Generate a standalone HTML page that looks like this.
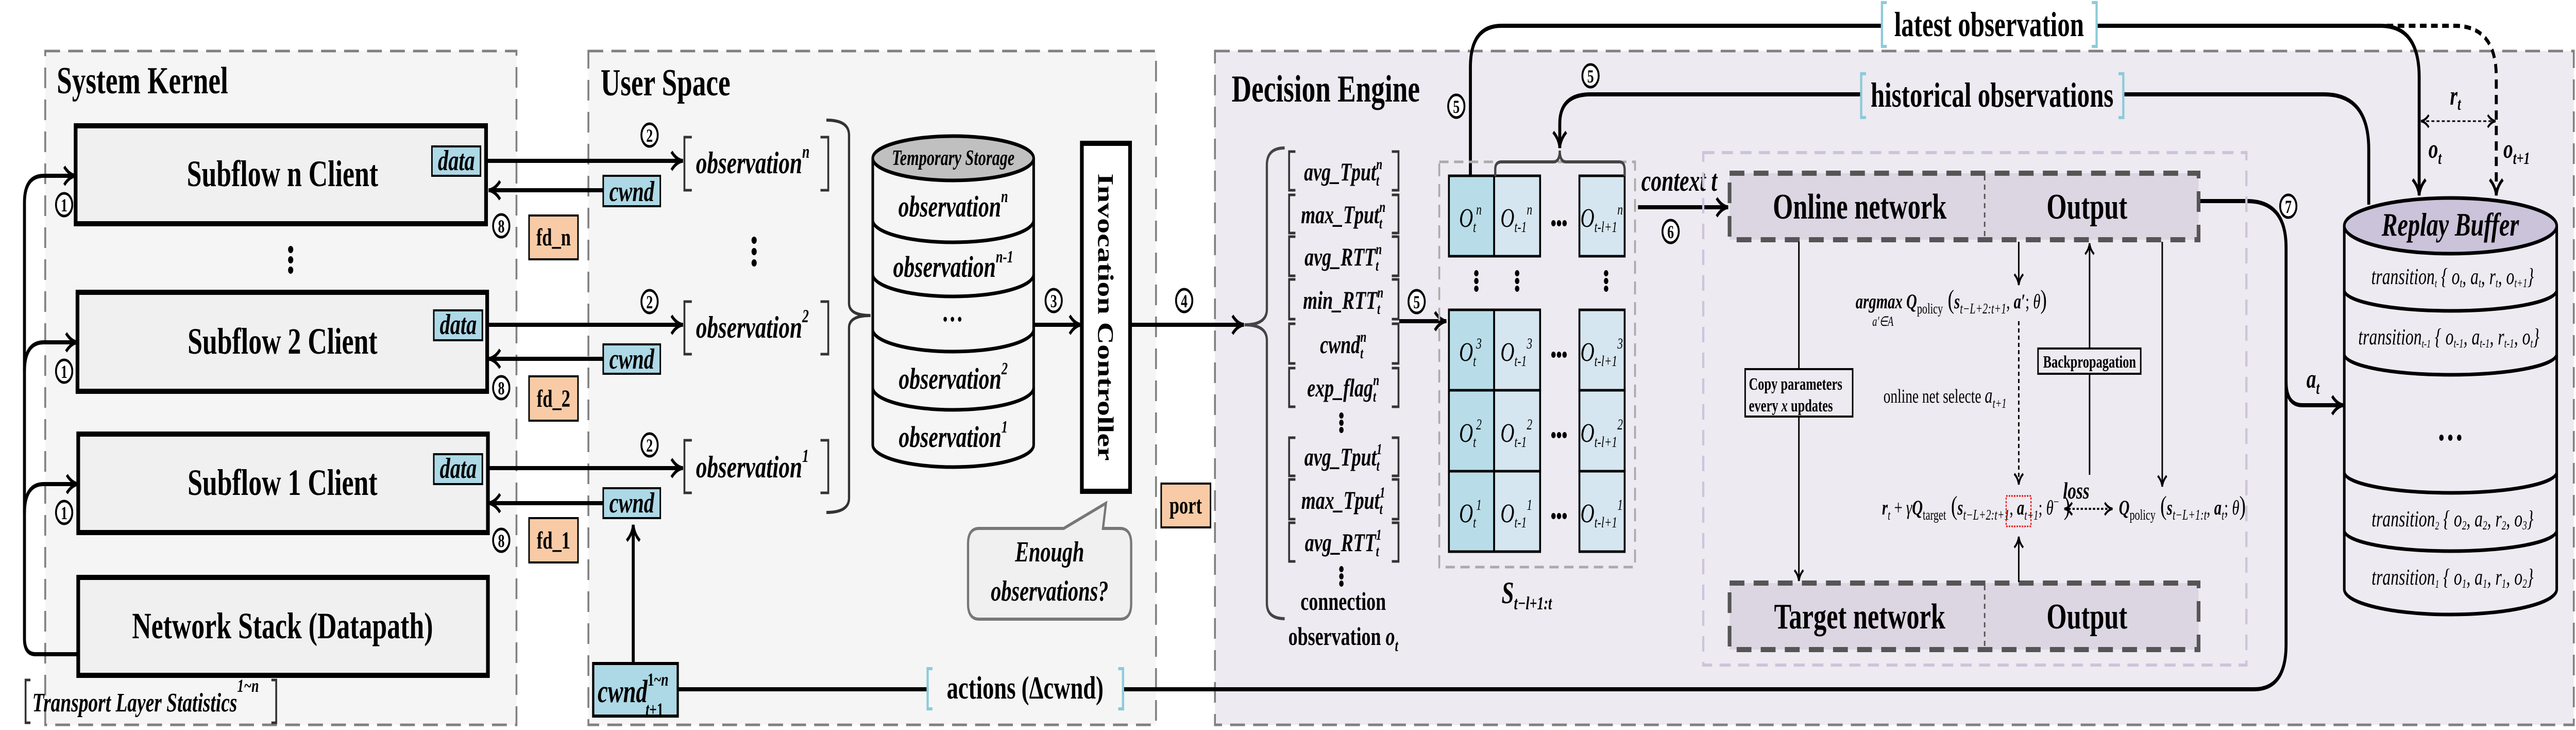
<!DOCTYPE html>
<html><head><meta charset="utf-8"><style>html,body{margin:0;padding:0;background:#fff;width:100%;height:100%;overflow:hidden}svg{display:block;width:100vw;height:100vh}</style></head>
<body>
<svg xmlns="http://www.w3.org/2000/svg" viewBox="0 0 6948 1416" preserveAspectRatio="none" font-family="Liberation Serif, serif">
<defs>
<marker id="a" viewBox="0 0 20 20" refX="17" refY="10" markerWidth="44" markerHeight="44" markerUnits="userSpaceOnUse" orient="auto-start-reverse"><path d="M3,2 Q9,9 17,10 Q9,11 3,18" fill="none" stroke="#000" stroke-width="3"/></marker>
<marker id="b" viewBox="0 0 20 20" refX="17" refY="10" markerWidth="30" markerHeight="30" markerUnits="userSpaceOnUse" orient="auto-start-reverse"><path d="M3,2 Q9,9 17,10 Q9,11 3,18" fill="none" stroke="#000" stroke-width="3"/></marker>
</defs>
<rect width="6948" height="1416" fill="#fff"/>
<rect x="122" y="99" width="1271" height="1307" fill="#f5f5f5" stroke="#808080" stroke-width="5" stroke-dasharray="40 22"/>
<rect x="1587" y="99" width="1531" height="1307" fill="#f5f5f5" stroke="#808080" stroke-width="5" stroke-dasharray="40 22"/>
<rect x="3277" y="99" width="3665" height="1307" fill="#edeaf1" stroke="#808080" stroke-width="5" stroke-dasharray="40 22"/>
<g font-weight="bold" font-size="74">
<text x="153" y="181">System Kernel</text>
<text x="1620" y="185">User Space</text>
<text x="3322" y="197">Decision Engine</text>
</g>
<g fill="#f0f0f0" stroke="#000" stroke-width="10">
<rect x="204" y="244" width="1107" height="190"/>
<rect x="209" y="567" width="1105" height="192"/>
<rect x="211" y="842" width="1105" height="191"/>
<rect x="211" y="1120" width="1105" height="190"/>
</g>
<g font-weight="bold" font-size="72" text-anchor="middle">
<text x="762" y="361">Subflow n Client</text>
<text x="762" y="686">Subflow 2 Client</text>
<text x="762" y="960">Subflow 1 Client</text>
<text x="762" y="1238">Network Stack (Datapath)</text>
</g>
<g fill="#add8e6" stroke="#000" stroke-width="4">
<rect x="1165" y="284" width="131" height="57"/>
<rect x="1170" y="602" width="131" height="58"/>
<rect x="1170" y="881" width="131" height="58"/>
<rect x="1627" y="341" width="154" height="59"/>
<rect x="1627" y="668" width="154" height="57"/>
<rect x="1627" y="947" width="154" height="58"/>
<rect x="1600" y="1287" width="228" height="102" stroke-width="6"/>
</g>
<g font-style="italic" font-weight="bold" font-size="56" text-anchor="middle">
<text x="1231" y="330">data</text><text x="1236" y="648">data</text><text x="1236" y="927">data</text>
<text x="1704" y="390">cwnd</text><text x="1704" y="715">cwnd</text><text x="1704" y="994">cwnd</text>
</g>
<text x="1612" y="1362" font-style="italic" font-weight="bold" font-size="62">cwnd<tspan font-size="36" font-style="normal" dy="-32">1~</tspan><tspan font-size="36">n</tspan><tspan font-size="36" dx="-62" dy="58">t</tspan><tspan font-size="36" font-style="normal">+1</tspan></text>
<g fill="#f8cba6" stroke="#000" stroke-width="4">
<rect x="1427" y="418" width="132" height="85"/><rect x="1427" y="730" width="132" height="86"/><rect x="1427" y="1005" width="132" height="86"/>
<rect x="3132" y="938" width="133" height="85"/>
</g>
<g font-weight="bold" font-size="48" text-anchor="middle">
<text x="1493" y="476">fd_n</text><text x="1493" y="789">fd_2</text><text x="1493" y="1064">fd_1</text><text x="3198" y="996">port</text>
</g>
<g fill="#000"><circle cx="784" cy="484" r="7"/><circle cx="784" cy="504" r="7"/><circle cx="784" cy="524" r="7"/>
<circle cx="2034" cy="466" r="7"/><circle cx="2034" cy="488" r="7"/><circle cx="2034" cy="510" r="7"/></g>
<g fill="none" stroke="#000" stroke-width="8">
<path d="M211,1269 H96 Q66,1269 66,1239 V393 Q66,341 118,341 H204" marker-end="url(#a)"/>
<path d="M66,720 Q66,664 118,664 H209" marker-end="url(#a)"/>
<path d="M66,995 Q66,939 118,939 H211" marker-end="url(#a)"/>
<path d="M1316,312 H1842" marker-end="url(#a)"/>
<path d="M1316,630 H1842" marker-end="url(#a)"/>
<path d="M1316,908 H1842" marker-end="url(#a)"/>
<path d="M1627,369 H1318" marker-end="url(#a)"/>
<path d="M1627,696 H1318" marker-end="url(#a)"/>
<path d="M1627,976 H1318" marker-end="url(#a)"/>
<path d="M1708,1287 V1018" marker-end="url(#a)"/>
<path d="M2788,630 H2916" marker-end="url(#a)"/>
<path d="M3048,630 H3355" marker-end="url(#a)"/>
<path d="M3774,623 H3901" marker-end="url(#a)"/>
<path d="M4418,402 H4661" marker-end="url(#a)"/>
<path d="M1828,1337 H2500"/>
<path d="M3029,1337 H6080 Q6166,1337 6166,1250 V480 Q6166,390 6060,390 H5930"/>
<path d="M6166,740 Q6166,786 6210,786 H6321" marker-end="url(#a)"/>
<path d="M3966,341 V130 Q3966,50 4050,50 H5074"/>
<path d="M5657,50 H6420 Q6525,50 6525,150 V379" marker-end="url(#a)"/>
<path d="M6437,50 H6620 Q6733,50 6733,150 V379" stroke-dasharray="18 12" marker-end="url(#a)"/>
<path d="M6389,397 V290 Q6389,183 6268,183 H5729"/>
<path d="M5018,183 H4290 Q4207,183 4207,240 V287" marker-end="url(#a)"/>
</g>
<g fill="none" stroke="#333" stroke-width="5">
<path d="M82,1319 H69 V1402 H82"/><path d="M732,1319 H745 V1402 H732"/>
</g>
<text x="87" y="1380" font-style="italic" font-weight="bold" font-size="52">Transport Layer Statistics<tspan font-size="36" dy="-38">1~n</tspan></text>
<g fill="none" stroke="#333" stroke-width="5">
<path d="M1866,266 H1846 V369 H1866"/><path d="M2213,266 H2234 V369 H2213"/>
<path d="M1866,585 H1846 V687 H1866"/><path d="M2213,585 H2234 V687 H2213"/>
<path d="M1866,854 H1846 V956 H1866"/><path d="M2213,854 H2234 V956 H2213"/>
<path d="M2229,233 Q2290,233 2290,262 V588 Q2290,612 2348,612 Q2290,612 2290,636 V966 Q2290,994 2229,994" stroke-width="6"/>
</g>
<g font-style="italic" font-weight="bold" font-size="60">
<text x="1877" y="336">observation<tspan font-size="36" dy="-30">n</tspan></text>
<text x="1877" y="655">observation<tspan font-size="36" dy="-30">2</tspan></text>
<text x="1877" y="926">observation<tspan font-size="36" dy="-30">1</tspan></text>
</g>
<path d="M2354,307 V863 A217,43 0 0 0 2788,863 V307" fill="#f5f5f5" stroke="#000" stroke-width="7"/>
<ellipse cx="2571" cy="307" rx="217" ry="43" fill="#c0c0c0" stroke="#000" stroke-width="7"/>
<g fill="none" stroke="#000" stroke-width="7">
<path d="M2354,427 A217,43 0 0 0 2788,427"/><path d="M2354,532 A217,43 0 0 0 2788,532"/>
<path d="M2354,639 A217,43 0 0 0 2788,639"/><path d="M2354,752 A217,43 0 0 0 2788,752"/>
</g>
<text x="2571" y="320" text-anchor="middle" font-style="italic" font-weight="bold" font-size="42">Temporary Storage</text>
<g font-style="italic" font-weight="bold" font-size="58" text-anchor="middle">
<text x="2571" y="420">observation<tspan font-size="34" dy="-28">n</tspan></text>
<text x="2571" y="537">observation<tspan font-size="34" dy="-28">n-1</tspan></text>
<text x="2571" y="623">…</text>
<text x="2571" y="754">observation<tspan font-size="34" dy="-28">2</tspan></text>
<text x="2571" y="867">observation<tspan font-size="34" dy="-28">1</tspan></text>
</g>
<rect x="2918" y="278" width="130" height="675" fill="#fff" stroke="#000" stroke-width="10"/>
<text transform="translate(2962,615) rotate(90)" text-anchor="middle" font-weight="bold" font-size="60">Invocation Controller</text>
<path d="M2641,1025 H2869 L2983,976 L2975,1025 H3021 Q3051,1025 3051,1055 V1171 Q3051,1201 3021,1201 H2641 Q2611,1201 2611,1171 V1055 Q2611,1025 2641,1025 Z" fill="#f0f0f0" stroke="#777" stroke-width="6"/>
<g font-style="italic" font-weight="bold" font-size="56" text-anchor="middle">
<text x="2831" y="1089">Enough</text><text x="2831" y="1165">observations?</text>
</g>
<g fill="none" stroke="#8ccbd9" stroke-width="6">
<path d="M2515,1297 H2502 V1375 H2515"/><path d="M3016,1297 H3029 V1375 H3016"/>
<path d="M5089,5 H5076 V90 H5089"/><path d="M5642,5 H5655 V90 H5642"/>
<path d="M5033,143 H5020 V228 H5033"/><path d="M5714,143 H5727 V228 H5714"/>
</g>
<g font-weight="bold" text-anchor="middle">
<text x="2765" y="1355" font-size="62">actions (Δcwnd)</text>
<text x="5365" y="70" font-size="68">latest observation</text>
<text x="5373" y="207" font-size="68">historical observations</text>
</g>
<g fill="none" stroke="#444" stroke-width="6">
<path d="M3465,287 Q3417,287 3417,320 V600 Q3417,630 3357,630 Q3417,630 3417,660 V1170 Q3417,1200 3465,1200"/>
</g>
<g fill="none" stroke="#333" stroke-width="5">
<path d="M3494,294 H3477 V369 H3494 M3754,294 H3772 V369 H3754"/>
<path d="M3494,378 H3477 V452 H3494 M3754,378 H3772 V452 H3754"/>
<path d="M3494,459 H3477 V535 H3494 M3754,459 H3772 V535 H3754"/>
<path d="M3494,542 H3477 V619 H3494 M3754,542 H3772 V619 H3754"/>
<path d="M3494,628 H3477 V705 H3494 M3754,628 H3772 V705 H3754"/>
<path d="M3494,714 H3477 V789 H3494 M3754,714 H3772 V789 H3754"/>
<path d="M3494,849 H3477 V923 H3494 M3754,849 H3772 V923 H3754"/>
<path d="M3494,930 H3477 V1007 H3494 M3754,930 H3772 V1007 H3754"/>
<path d="M3494,1014 H3477 V1089 H3494 M3754,1014 H3772 V1089 H3754"/>
</g>
<g font-style="italic" font-weight="bold" font-size="50" text-anchor="middle">
<text x="3623" y="350">avg_Tput<tspan font-size="30" dy="10">t</tspan><tspan font-size="30" dx="-8" dy="-32">n</tspan></text>
<text x="3623" y="433">max_Tput<tspan font-size="30" dy="10">t</tspan><tspan font-size="30" dx="-8" dy="-32">n</tspan></text>
<text x="3623" y="515">avg_RTT<tspan font-size="30" dy="10">t</tspan><tspan font-size="30" dx="-8" dy="-32">n</tspan></text>
<text x="3623" y="599">min_RTT<tspan font-size="30" dy="10">t</tspan><tspan font-size="30" dx="-8" dy="-32">n</tspan></text>
<text x="3623" y="685">cwnd<tspan font-size="30" dy="10">t</tspan><tspan font-size="30" dx="-8" dy="-32">n</tspan></text>
<text x="3623" y="769">exp_flag<tspan font-size="30" dy="10">t</tspan><tspan font-size="30" dx="-8" dy="-32">n</tspan></text>
<text x="3623" y="903">avg_Tput<tspan font-size="30" dy="10">t</tspan><tspan font-size="30" dx="-8" dy="-32">1</tspan></text>
<text x="3623" y="987">max_Tput<tspan font-size="30" dy="10">t</tspan><tspan font-size="30" dx="-8" dy="-32">1</tspan></text>
<text x="3623" y="1069">avg_RTT<tspan font-size="30" dy="10">t</tspan><tspan font-size="30" dx="-8" dy="-32">1</tspan></text>
</g>
<g fill="#000"><circle cx="3618" cy="806" r="6"/><circle cx="3618" cy="820" r="6"/><circle cx="3618" cy="834" r="6"/>
<circle cx="3618" cy="1104" r="6"/><circle cx="3618" cy="1118" r="6"/><circle cx="3618" cy="1132" r="6"/></g>
<g font-weight="bold" font-size="50" text-anchor="middle">
<text x="3623" y="1183">connection</text>
<text x="3623" y="1251">observation <tspan font-style="italic">o</tspan><tspan font-style="italic" font-size="32" dy="12">t</tspan></text>
</g>
<rect x="3882" y="314" width="528" height="786" fill="none" stroke="#aaa" stroke-width="5" stroke-dasharray="25 15"/>
<g stroke="#000" stroke-width="5">
<rect x="3908" y="341" width="122" height="156" fill="#b8dde8"/><rect x="4030" y="341" width="124" height="156" fill="#d6e6f0"/><rect x="4260" y="341" width="122" height="156" fill="#d6e6f0"/>
<rect x="3908" y="601" width="122" height="156" fill="#b8dde8"/><rect x="4030" y="601" width="124" height="156" fill="#d6e6f0"/><rect x="4260" y="601" width="122" height="156" fill="#d6e6f0"/>
<rect x="3908" y="757" width="122" height="157" fill="#b8dde8"/><rect x="4030" y="757" width="124" height="157" fill="#d6e6f0"/><rect x="4260" y="757" width="122" height="157" fill="#d6e6f0"/>
<rect x="3908" y="914" width="122" height="156" fill="#b8dde8"/><rect x="4030" y="914" width="124" height="156" fill="#d6e6f0"/><rect x="4260" y="914" width="122" height="156" fill="#d6e6f0"/>
</g>
<g font-style="italic" font-size="52" text-anchor="middle">
<text x="3966" y="440">O<tspan font-size="30" dy="10">t</tspan><tspan font-size="30" dy="-34">n</tspan></text>
<text x="4090" y="440">O<tspan font-size="30" dy="10">t-1</tspan><tspan font-size="30" dy="-34">n</tspan></text>
<text x="4320" y="440">O<tspan font-size="30" dy="10">t-l+1</tspan><tspan font-size="30" dy="-34">n</tspan></text>
<text x="3966" y="700">O<tspan font-size="30" dy="10">t</tspan><tspan font-size="30" dy="-34">3</tspan></text>
<text x="4090" y="700">O<tspan font-size="30" dy="10">t-1</tspan><tspan font-size="30" dy="-34">3</tspan></text>
<text x="4320" y="700">O<tspan font-size="30" dy="10">t-l+1</tspan><tspan font-size="30" dy="-34">3</tspan></text>
<text x="3966" y="857">O<tspan font-size="30" dy="10">t</tspan><tspan font-size="30" dy="-34">2</tspan></text>
<text x="4090" y="857">O<tspan font-size="30" dy="10">t-1</tspan><tspan font-size="30" dy="-34">2</tspan></text>
<text x="4320" y="857">O<tspan font-size="30" dy="10">t-l+1</tspan><tspan font-size="30" dy="-34">2</tspan></text>
<text x="3966" y="1013">O<tspan font-size="30" dy="10">t</tspan><tspan font-size="30" dy="-34">1</tspan></text>
<text x="4090" y="1013">O<tspan font-size="30" dy="10">t-1</tspan><tspan font-size="30" dy="-34">1</tspan></text>
<text x="4320" y="1013">O<tspan font-size="30" dy="10">t-l+1</tspan><tspan font-size="30" dy="-34">1</tspan></text>
</g>
<g fill="#000">
<circle cx="4190" cy="433" r="6"/><circle cx="4205" cy="433" r="6"/><circle cx="4220" cy="433" r="6"/>
<circle cx="4190" cy="688" r="6"/><circle cx="4205" cy="688" r="6"/><circle cx="4220" cy="688" r="6"/>
<circle cx="4190" cy="844" r="6"/><circle cx="4205" cy="844" r="6"/><circle cx="4220" cy="844" r="6"/>
<circle cx="4190" cy="1001" r="6"/><circle cx="4205" cy="1001" r="6"/><circle cx="4220" cy="1001" r="6"/>
<circle cx="3982" cy="530" r="6"/><circle cx="3982" cy="545" r="6"/><circle cx="3982" cy="560" r="6"/>
<circle cx="4092" cy="530" r="6"/><circle cx="4092" cy="545" r="6"/><circle cx="4092" cy="560" r="6"/>
<circle cx="4332" cy="530" r="6"/><circle cx="4332" cy="545" r="6"/><circle cx="4332" cy="560" r="6"/>
</g>
<path d="M4033,342 V328 Q4033,314 4050,314 H4190 Q4207,314 4207,292 Q4207,314 4224,314 H4368 Q4382,314 4382,330 V342" fill="none" stroke="#444" stroke-width="6"/>
<text x="4050" y="1170" font-style="italic" font-weight="bold" font-size="60">S<tspan font-size="36" dy="12">t−l+1:t</tspan></text>
<text x="4427" y="370" font-style="italic" font-weight="bold" font-size="58">context t</text>
<rect x="4594" y="296" width="1465" height="994" fill="none" stroke="#cdc4db" stroke-width="6" stroke-dasharray="30 20"/>
<g fill="#dcd6e3" stroke="#555" stroke-width="10" stroke-dasharray="40 25">
<rect x="4665" y="336" width="1265" height="129"/>
<rect x="4665" y="1131" width="1265" height="129"/>
</g>
<g stroke="#555" stroke-width="4" stroke-dasharray="10 8"><path d="M5353,340 V462 M5353,1135 V1257"/></g>
<g font-weight="bold" font-size="70" text-anchor="middle">
<text x="5016" y="424">Online network</text><text x="5629" y="424">Output</text>
<text x="5016" y="1219">Target network</text><text x="5629" y="1219">Output</text>
</g>
<g fill="none" stroke="#000" stroke-width="4">
<path d="M4852,469 V1127" marker-end="url(#b)"/>
<path d="M5445,469 V553" marker-end="url(#b)"/>
<path d="M5445,623 V940" stroke-dasharray="8 6" marker-end="url(#b)"/>
<path d="M5636,921 V472" marker-end="url(#b)"/>
<path d="M5832,469 V944" marker-end="url(#b)"/>
<path d="M5445,1129 V1041" marker-end="url(#b)"/>
<path d="M5568,987 H5698" stroke-dasharray="6 5" marker-start="url(#b)" marker-end="url(#b)"/>
<path d="M6530,235 H6731" stroke-width="3" stroke-dasharray="8 6" marker-start="url(#b)" marker-end="url(#b)"/>
</g>
<rect x="4707" y="716" width="290" height="92" fill="#edeaf1" stroke="#000" stroke-width="4"/>
<g font-weight="bold" font-size="34"><text x="4717" y="756">Copy parameters</text><text x="4717" y="798">every <tspan font-style="italic">x</tspan> updates</text></g>
<rect x="5497" y="676" width="277" height="49" fill="#edeaf1" stroke="#000" stroke-width="4"/>
<text x="5636" y="713" text-anchor="middle" font-weight="bold" font-size="34">Backpropagation</text>
<g font-size="40">
<text x="5005" y="598"><tspan font-style="italic" font-weight="bold">argmax Q</tspan><tspan font-size="28" dy="10">policy</tspan><tspan font-size="52" dy="-10"> (</tspan><tspan font-style="italic" font-weight="bold">s</tspan><tspan font-size="28" font-style="italic" dy="10">t−L+2:t+1</tspan><tspan dy="-10">, </tspan><tspan font-style="italic" font-weight="bold">a′</tspan>; <tspan font-style="italic">θ</tspan><tspan font-size="52">)</tspan></text>
<text x="5050" y="632" font-size="26" font-style="italic">a′∈A</text>
<text x="5080" y="781" font-size="38">online net selecte <tspan font-style="italic" font-size="42">a</tspan><tspan font-style="italic" font-size="26" dy="10">t+1</tspan></text>
<text x="5076" y="998"><tspan font-style="italic" font-weight="bold">r</tspan><tspan font-style="italic" font-size="26" dy="10">t</tspan><tspan dy="-10"> + </tspan><tspan font-style="italic">γ</tspan><tspan font-style="italic" font-weight="bold">Q</tspan><tspan font-size="28" dy="10">target</tspan><tspan font-size="52" dy="-10"> (</tspan><tspan font-style="italic" font-weight="bold">s</tspan><tspan font-size="28" font-style="italic" dy="10">t−L+2:t+1</tspan><tspan dy="-10">, </tspan><tspan font-style="italic" font-weight="bold">a</tspan><tspan font-size="26" font-style="italic" dy="10">t+1</tspan><tspan dy="-10">; </tspan><tspan font-style="italic">θ</tspan><tspan font-size="26" dy="-16">−</tspan><tspan font-size="52" dy="16"> )</tspan></text>
<text x="5715" y="998"><tspan font-style="italic" font-weight="bold">Q</tspan><tspan font-size="28" dy="10">policy</tspan><tspan font-size="52" dy="-10"> (</tspan><tspan font-style="italic" font-weight="bold">s</tspan><tspan font-size="28" font-style="italic" dy="10">t−L+1:t</tspan><tspan dy="-10">, </tspan><tspan font-style="italic" font-weight="bold">a</tspan><tspan font-size="26" font-style="italic" dy="10">t</tspan><tspan dy="-10">; </tspan><tspan font-style="italic">θ</tspan><tspan font-size="52">)</tspan></text>
</g>
<rect x="5411" y="962" width="67" height="59" fill="none" stroke="#e00" stroke-width="3" stroke-dasharray="4 3"/>
<text x="5600" y="967" text-anchor="middle" font-style="italic" font-weight="bold" font-size="46">loss</text>
<path d="M6323,438 V1143 A286.5,49 0 0 0 6896,1143 V438" fill="#edeaf1" stroke="#000" stroke-width="7"/>
<ellipse cx="6609.5" cy="438" rx="286.5" ry="54" fill="#cbc3da" stroke="#000" stroke-width="7"/>
<g fill="none" stroke="#000" stroke-width="7">
<path d="M6323,563 A286.5,40 0 0 0 6896,563"/><path d="M6323,687 A286.5,40 0 0 0 6896,687"/>
<path d="M6323,916 A286.5,40 0 0 0 6896,916"/><path d="M6323,1029 A286.5,40 0 0 0 6896,1029"/>
</g>
<text x="6609" y="457" text-anchor="middle" font-style="italic" font-weight="bold" font-size="64">Replay Buffer</text>
<g font-style="italic" font-size="44" text-anchor="middle">
<text x="6615" y="551">transition<tspan font-size="22" dy="6">t</tspan><tspan dy="-6"> { o</tspan><tspan font-size="24" dy="6">t</tspan><tspan dy="-6">, a</tspan><tspan font-size="24" dy="6">t</tspan><tspan dy="-6">, r</tspan><tspan font-size="24" dy="6">t</tspan><tspan dy="-6">, o</tspan><tspan font-size="24" dy="6">t+1</tspan><tspan dy="-6">}</tspan></text>
<text x="6605" y="668">transition<tspan font-size="22" dy="6">t-1</tspan><tspan dy="-6"> { o</tspan><tspan font-size="24" dy="6">t-1</tspan><tspan dy="-6">, a</tspan><tspan font-size="24" dy="6">t-1</tspan><tspan dy="-6">, r</tspan><tspan font-size="24" dy="6">t-1</tspan><tspan dy="-6">, o</tspan><tspan font-size="24" dy="6">t</tspan><tspan dy="-6">}</tspan></text>
<text x="6615" y="1021">transition<tspan font-size="22" dy="6">2</tspan><tspan dy="-6"> { o</tspan><tspan font-size="24" dy="6">2</tspan><tspan dy="-6">, a</tspan><tspan font-size="24" dy="6">2</tspan><tspan dy="-6">, r</tspan><tspan font-size="24" dy="6">2</tspan><tspan dy="-6">, o</tspan><tspan font-size="24" dy="6">3</tspan><tspan dy="-6">}</tspan></text>
<text x="6615" y="1134">transition<tspan font-size="22" dy="6">1</tspan><tspan dy="-6"> { o</tspan><tspan font-size="24" dy="6">1</tspan><tspan dy="-6">, a</tspan><tspan font-size="24" dy="6">1</tspan><tspan dy="-6">, r</tspan><tspan font-size="24" dy="6">1</tspan><tspan dy="-6">, o</tspan><tspan font-size="24" dy="6">2</tspan><tspan dy="-6">}</tspan></text>
</g>
<g fill="#000"><circle cx="6585" cy="849" r="6"/><circle cx="6609" cy="849" r="6"/><circle cx="6633" cy="849" r="6"/></g>
<g font-style="italic" font-weight="bold" font-size="52">
<text x="6608" y="203">r<tspan font-size="34" dy="10">t</tspan></text>
<text x="6550" y="306">o<tspan font-size="34" dy="12">t</tspan></text>
<text x="6752" y="306">o<tspan font-size="34" dy="12">t+1</tspan></text>
<text x="6221" y="752">a<tspan font-size="34" dy="12">t</tspan></text>
</g>
<g fill="#fff" stroke="#000" stroke-width="5">
<circle cx="173" cy="397" r="22"/><circle cx="173" cy="720" r="22"/><circle cx="173" cy="994" r="22"/>
<circle cx="1352" cy="438" r="22"/><circle cx="1352" cy="752" r="22"/><circle cx="1352" cy="1048" r="22"/>
<circle cx="1752" cy="262" r="22"/><circle cx="1752" cy="585" r="22"/><circle cx="1752" cy="863" r="22"/>
<circle cx="2842" cy="583" r="22"/><circle cx="3194" cy="583" r="22"/>
<circle cx="3821" cy="585" r="22"/><circle cx="3928" cy="206" r="22"/><circle cx="4290" cy="147" r="22"/>
<circle cx="4506" cy="449" r="22"/><circle cx="6172" cy="400" r="22"/>
</g>
<g font-weight="bold" font-size="36" text-anchor="middle">
<text x="173" y="410">1</text><text x="173" y="733">1</text><text x="173" y="1007">1</text>
<text x="1352" y="451">8</text><text x="1352" y="765">8</text><text x="1352" y="1061">8</text>
<text x="1752" y="275">2</text><text x="1752" y="598">2</text><text x="1752" y="876">2</text>
<text x="2842" y="596">3</text><text x="3194" y="596">4</text>
<text x="3821" y="598">5</text><text x="3928" y="219">5</text><text x="4290" y="160">5</text>
<text x="4506" y="462">6</text><text x="6172" y="413">7</text>
</g>
</svg>
</body></html>
